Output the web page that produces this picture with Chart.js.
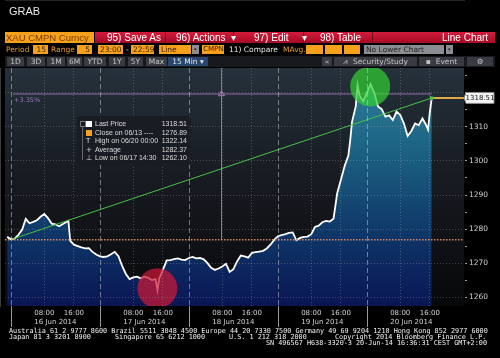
<!DOCTYPE html>
<html>
<head>
<meta charset="utf-8">
<script src="https://cdn.jsdelivr.net/npm/chart.js@4.4.1/dist/chart.umd.min.js"></script>
<style>
  body { margin: 0; background: #000; }
  #wrap { position: relative; width: 500px; height: 358px; overflow: hidden; background: #000; }
  #c { position: absolute; left: 0; top: 0; }
  .t { position: absolute; white-space: pre; line-height: 1; }
  .o { position: absolute; background: #f5a11c; color: #3a1e00; font: 7.5px "DejaVu Sans", sans-serif; line-height: 9px; height: 9px; padding: 0 2px; box-sizing: border-box; white-space: pre; overflow: hidden; }
  .l { position: absolute; color: #e89b2a; font: 7.5px "DejaVu Sans", sans-serif; line-height: 9px; white-space: pre; }
  .g { position: absolute; background: #8a8d92; color: #222; font: 7.5px "DejaVu Sans", sans-serif; line-height: 9px; height: 9px; padding: 0 2px; box-sizing: border-box; white-space: pre; }
  .b { position: absolute; top: 57px; height: 9px; background: #383c42; color: #c4c4c4; font: 7.5px "DejaVu Sans", sans-serif; line-height: 9px; text-align: center; white-space: pre; }
  .rb { position: absolute; top: 32px; color: #fff; font: 10px "Liberation Sans", Arial, sans-serif; line-height: 11px; white-space: pre; }
  .dv { position: absolute; top: 32px; width: 1px; height: 11px; background: #7a0a1e; }
  .ft { position: absolute; color: #f2f2f2; font: 6.8px "DejaVu Sans Mono", monospace; line-height: 7px; white-space: pre; }
  #leg { position: absolute; left: 77px; top: 116px; width: 114px; height: 49px; background: rgba(24,28,34,0.9); border-radius: 2px; }
  .lr { position: absolute; left: 18px; width: 92px; color: #dcdcdc; font: 7px "Liberation Sans", Arial, sans-serif; line-height: 8px; white-space: pre; }
  .lv { position: absolute; right: 0; top: 0; }
  .ic { position: absolute; }
</style>
</head>
<body>
<div id="wrap">
  <canvas id="c" width="500" height="358"></canvas>

  <div class="t" style="left:9px;top:5px;font:11px 'Liberation Sans',Arial,sans-serif;color:#e6e6e6;">GRAB</div>

  <div class="t" style="left:5px;top:32px;width:88px;height:11px;background:#f5a11c;color:#7a3c00;font:9.5px 'Liberation Sans',Arial,sans-serif;line-height:11px;padding-left:1px;">XAU CMPN Curncy</div>
  <div class="t" style="left:95px;top:32px;width:400px;height:11px;background:linear-gradient(#d41c3c,#a50a25);"></div>
  <div class="dv" style="left:165px"></div>
  <div class="dv" style="left:233px"></div>
  <div class="dv" style="left:303px"></div>
  <div class="dv" style="left:372px"></div>
  <div class="rb" style="left:107px">95) Save As</div>
  <div class="rb" style="left:176px">96) Actions  ▾</div>
  <div class="rb" style="left:254px">97) Edit     ▾</div>
  <div class="rb" style="left:320px">98) Table</div>
  <div class="rb" style="left:442px">Line Chart</div>

  <div class="l" style="left:6px;top:45px">Period</div>
  <div class="o" style="left:33px;top:45px;width:15px;text-align:right">15</div>
  <div class="l" style="left:51px;top:45px">Range</div>
  <div class="o" style="left:77px;top:45px;width:15px;text-align:right">5</div>
  <div class="o" style="left:98px;top:45px;width:25px">23:00</div>
  <div class="l" style="left:126px;top:45px;color:#ddd">-</div>
  <div class="o" style="left:131px;top:45px;width:23px">22:59</div>
  <div class="o" style="left:159px;top:45px;width:32px">Line</div>
  <div class="g" style="left:192px;top:45px;width:7px;font-size:5px">▾</div>
  <div class="o" style="left:202px;top:45px;width:22px;font-size:7px;padding:0 1px">CMPN</div>
  <div class="l" style="left:229px;top:45px;color:#e8e8e8">11) Compare</div>
  <div class="l" style="left:283px;top:45px">MAvg.</div>
  <div class="o" style="left:306px;top:45px;width:17px"></div>
  <div class="o" style="left:325px;top:45px;width:17px"></div>
  <div class="o" style="left:344px;top:45px;width:16px"></div>
  <div class="g" style="left:364px;top:45px;width:80px">No Lower Chart</div>
  <div class="g" style="left:446px;top:45px;width:7px;font-size:5px">▾</div>

  <div class="t" style="left:5px;top:56px;width:490px;height:11px;background:#17191c;"></div>
  <div class="b" style="left:7px;width:17px">1D</div>
  <div class="b" style="left:27px;width:18px">3D</div>
  <div class="b" style="left:47px;width:18px">1M</div>
  <div class="b" style="left:67px;width:15px">6M</div>
  <div class="b" style="left:84px;width:22px">YTD</div>
  <div class="b" style="left:109px;width:16px">1Y</div>
  <div class="b" style="left:128px;width:15px">5Y</div>
  <div class="b" style="left:146px;width:21px">Max</div>
  <div class="b" style="left:168px;width:40px;background:#27466f;color:#e6e6e6">15 Min ▾</div>
  <div class="b" style="left:322px;width:10px">«</div>
  <div class="b" style="left:334px;width:83px">⩘  Security/Study</div>
  <div class="b" style="left:419px;width:45px">▪  Event</div>
  <div class="b" style="left:467px;width:26px">⚙</div>

  <div class="t" style="left:14px;top:96px;color:#9a78b4;font:6.5px 'DejaVu Sans',sans-serif;">+3.35%</div>

  <div id="leg">
    <div class="ic" style="left:3px;top:5px;width:4px;height:4px;border:1px solid #777;"></div>
    <div class="ic" style="left:5px;top:11px;width:1px;height:33px;background:#666;"></div>
    <div class="ic" style="left:9px;top:5px;width:6px;height:6px;background:#fff;"></div>
    <div class="ic" style="left:9px;top:14px;width:6px;height:6px;background:#f5a11c;"></div>
    <div class="ic" style="left:9px;top:21px;color:#ddd;font:7px 'DejaVu Sans',sans-serif;">T</div>
    <div class="ic" style="left:9px;top:30px;color:#ddd;font:7px 'DejaVu Sans',sans-serif;">+</div>
    <div class="ic" style="left:9px;top:38px;color:#ddd;font:7px 'DejaVu Sans',sans-serif;">⊥</div>
    <div class="lr" style="top:4px">Last Price<span class="lv">1318.51</span></div>
    <div class="lr" style="top:13px">Close on 06/13 ----<span class="lv">1276.89</span></div>
    <div class="lr" style="top:21px">High on 06/20 00:00<span class="lv">1322.14</span></div>
    <div class="lr" style="top:30px">Average<span class="lv">1282.37</span></div>
    <div class="lr" style="top:38px">Low on 06/17 14:30<span class="lv">1262.10</span></div>
  </div>

  <div class="ft" style="left:9px;top:328px">Australia 61 2 9777 8600 Brazil 5511 3048 4500 Europe 44 20 7330 7500 Germany 49 69 9204 1210 Hong Kong 852 2977 6000</div>
  <div class="ft" style="left:9px;top:334px">Japan 81 3 3201 8900</div>
  <div class="ft" style="left:115px;top:334px">Singapore 65 6212 1000</div>
  <div class="ft" style="left:229px;top:334px">U.S. 1 212 318 2000</div>
  <div class="ft" style="left:335px;top:334px">Copyright 2014 Bloomberg Finance L.P.</div>
  <div class="ft" style="left:266px;top:340px">SN 496567 H638-3320-3 20-Jun-14 16:36:31 CEST GMT+2:00</div>
</div>

<script>
// hours counted from 16 Jun 2014 00:00, 15 min bars read at ~1h steps
const days = ['16 Jun 2014', '17 Jun 2014', '18 Jun 2014', '19 Jun 2014', '20 Jun 2014'];
const hourLabels = ['08:00', '16:00'];
const hourOffsets = [8, 16];

const times = [
  -2, -1, 0, 1, 2, 3, 4, 5, 6, 7, 8, 9, 10, 11, 12, 13, 14, 14.5, 15, 16, 17, 18, 19, 20, 21, 22,
  23, 24, 25, 26, 27, 28, 29, 30, 31, 32, 33, 34, 35, 36, 37, 38, 38.5, 39, 40, 41, 42, 43, 44, 45, 46,
  47, 48, 49, 50, 51, 52, 53, 54, 55, 56, 57, 58, 59, 60, 61, 62, 63, 64, 65, 66, 67, 68, 69, 70,
  71, 72, 73, 74, 75, 76, 77, 78, 79, 80, 81, 82, 83, 84, 85, 86, 87, 88, 89, 90, 90.5, 91, 92, 92.5,
  93, 94, 95, 96, 97, 98, 99, 100, 101, 102, 103, 104, 105, 106, 107, 108, 109, 110, 111, 111.5, 112, 112.5
];
const prices = [
  1277.7, 1277.0, 1277.2, 1278.3, 1279.8, 1283.0, 1281.7, 1282.1, 1282.6, 1283.6, 1284.4, 1283.2, 1281.6, 1281.4, 1280.8, 1281.5, 1282.1, 1282.4, 1276.5, 1275.4, 1275.0, 1274.6, 1274.3, 1274.4, 1273.3, 1272.5,
  1272.0, 1271.8, 1272.0, 1272.6, 1273.3, 1272.0, 1269.2, 1266.8, 1265.3, 1265.8, 1266.0, 1265.5, 1266.0, 1265.7, 1265.0, 1265.3, 1262.1, 1265.5, 1268.0, 1270.8, 1270.9, 1271.2, 1271.4, 1271.0, 1270.9,
  1271.5, 1271.8, 1271.4, 1271.5, 1271.1, 1270.0, 1268.6, 1268.0, 1268.4, 1269.0, 1269.8, 1267.4, 1268.2, 1270.5, 1272.2, 1272.0, 1271.6, 1273.0, 1273.2, 1273.4, 1273.6, 1274.3, 1275.4, 1276.8,
  1277.9, 1278.2, 1278.5, 1278.9, 1279.0, 1276.7, 1277.4, 1277.7, 1277.8, 1278.5, 1280.6, 1281.0, 1282.0, 1282.4, 1282.2, 1283.0, 1290.5, 1294.5, 1298.5, 1301.5, 1306.0, 1311.5, 1316.0, 1322.2,
  1319.3, 1317.5, 1320.0, 1322.5, 1320.0, 1316.0, 1315.2, 1313.0, 1313.4, 1312.0, 1314.5, 1313.5, 1311.0, 1307.3, 1308.8, 1311.0, 1310.5, 1312.5, 1310.5, 1309.2, 1314.5, 1318.51
];

const closePrice = 1276.89;
const lastPrice = 1318.51;
const measurePct = 3.35;
const measureTime = 55.8;
const trendTimes = [-1, 112.5];
const trendValues = [1276.9, 1318.5];
const markTimes = [38.5, 95.9];
const markValues = [1262.6, 1321.9];

const xMin = -2.6, xMax = 121.2;
const yMin = 1257.4, yMax = 1327.3;

const lastTime = times[times.length - 1];
const measureLevel = closePrice * (1 + measurePct / 100);

const hourTicks = [];
days.forEach((d, i) => hourOffsets.forEach(h => hourTicks.push(24 * i + h)));
const dayCenters = days.map((d, i) => 24 * i + 11);
const dayStarts = days.map((d, i) => 24 * i - 1);

function fillGradient(context) {
  const area = context.chart.chartArea;
  if (!area) return 'rgb(20,70,110)';
  const g = context.chart.ctx.createLinearGradient(0, area.top, 0, area.bottom);
  g.addColorStop(0, 'rgb(48,130,155)');
  g.addColorStop(0.35, 'rgb(28,98,130)');
  g.addColorStop(0.7, 'rgb(14,54,104)');
  g.addColorStop(1, 'rgb(10,22,84)');
  return g;
}

const decor = {
  id: 'decor',
  beforeDraw(chart) {
    const { ctx, chartArea: a } = chart;
    const g = ctx.createLinearGradient(0, a.top, 0, a.bottom);
    g.addColorStop(0, '#25313b');
    g.addColorStop(0.45, '#181b22');
    g.addColorStop(1, '#070809');
    ctx.save();
    ctx.fillStyle = g;
    ctx.fillRect(a.left, a.top, a.right - a.left, a.bottom - a.top);
    ctx.restore();
  },
  afterDatasetsDraw(chart) {
    const { ctx, chartArea: a, scales } = chart;
    ctx.save();
    dayStarts.forEach(t => {
      const x = Math.round(scales.x.getPixelForValue(t)) + 0.5;
      ctx.strokeStyle = 'rgba(210,210,210,0.5)';
      ctx.lineWidth = 1;
      ctx.setLineDash([5, 3]);
      ctx.beginPath();
      ctx.moveTo(x, a.top);
      ctx.lineTo(x, a.bottom);
      ctx.stroke();
      ctx.setLineDash([]);
      ctx.strokeStyle = '#9a9a9a';
      ctx.beginPath();
      ctx.moveTo(x, a.bottom);
      ctx.lineTo(x, scales.x2.bottom);
      ctx.stroke();
    });
    ctx.restore();
  },
  afterDraw(chart) {
    const { ctx, chartArea: a, scales } = chart;
    const y = scales.y.getPixelForValue(lastPrice);
    const x = a.right + 2;
    ctx.save();
    ctx.fillStyle = '#f4f4f4';
    ctx.strokeStyle = '#888';
    ctx.lineWidth = 1;
    ctx.beginPath();
    ctx.moveTo(x - 2, y);
    ctx.lineTo(x, y - 5.5);
    ctx.lineTo(x + 28, y - 5.5);
    ctx.lineTo(x + 28, y + 5.5);
    ctx.lineTo(x, y + 5.5);
    ctx.closePath();
    ctx.fill();
    ctx.stroke();
    ctx.fillStyle = '#111';
    ctx.font = '7px "DejaVu Sans", sans-serif';
    ctx.textAlign = 'center';
    ctx.textBaseline = 'middle';
    ctx.fillText(lastPrice.toFixed(2), x + 14, y + 0.5);
    ctx.restore();
  }
};

const axisFont = { family: '"DejaVu Sans", sans-serif', size: 7 };

new Chart(document.getElementById('c'), {
  type: 'line',
  data: {
    datasets: [
      {
        type: 'bubble',
        data: markTimes.map((t, i) => ({ x: t, y: markValues[i] })),
        radius: 20,
        hoverRadius: 0,
        borderWidth: 0,
        backgroundColor: ['rgba(205,25,55,0.72)', 'rgba(50,205,50,0.72)'],
        order: 0
      },
      {
        data: trendTimes.map((t, i) => ({ x: t, y: trendValues[i] })),
        borderColor: 'rgb(70,195,70)',
        borderWidth: 1,
        pointRadius: [0, 3],
        pointStyle: 'triangle',
        pointRotation: 71,
        pointBackgroundColor: 'rgb(70,195,70)',
        pointBorderWidth: 0,
        order: 1
      },
      {
        data: [{ x: lastTime, y: lastPrice }, { x: xMax, y: lastPrice }],
        borderColor: 'rgb(226,168,72)',
        borderWidth: 2,
        pointRadius: 0,
        order: 2
      },
      {
        data: [{ x: xMin, y: closePrice }, { x: xMax, y: closePrice }],
        borderColor: 'rgb(214,138,100)',
        borderWidth: 1.5,
        borderDash: [1.5, 1.5],
        pointRadius: 0,
        order: 2
      },
      {
        data: times.map((t, i) => ({ x: t, y: prices[i] })),
        borderColor: '#ffffff',
        borderWidth: 1.8,
        pointRadius: 0,
        fill: 'start',
        backgroundColor: fillGradient,
        tension: 0,
        order: 3
      },
      {
        data: [{ x: -0.5, y: measureLevel }, { x: lastTime, y: measureLevel }],
        borderColor: 'rgb(150,110,172)',
        borderWidth: 1,
        pointRadius: 0,
        order: 4
      },
      {
        data: [{ x: measureTime, y: closePrice }, { x: measureTime, y: yMax }],
        borderColor: 'rgb(150,110,172)',
        borderWidth: 1,
        pointRadius: 0,
        order: 4
      },
      {
        data: [{ x: measureTime, y: measureLevel }],
        showLine: false,
        pointStyle: 'triangle',
        pointRadius: 3.5,
        pointBackgroundColor: 'rgba(0,0,0,0)',
        pointBorderColor: 'rgb(165,125,185)',
        pointBorderWidth: 1,
        order: 4
      }
    ]
  },
  options: {
    responsive: false,
    animation: false,
    events: [],
    layout: { autoPadding: false, padding: { top: 68, left: 5, right: 0, bottom: 31 } },
    plugins: { legend: { display: false }, tooltip: { enabled: false } },
    scales: {
      x: {
        type: 'linear',
        min: xMin,
        max: xMax,
        position: 'bottom',
        afterBuildTicks: s => { s.ticks = hourTicks.map(v => ({ value: v })); },
        afterFit: s => { s.height = 12; },
        ticks: {
          callback: v => hourLabels[hourOffsets.indexOf(((v % 24) + 24) % 24)],
          color: '#d0d0d0',
          font: axisFont,
          padding: 3,
          maxRotation: 0,
          autoSkip: false
        },
        grid: { color: 'rgba(190,190,190,0.3)', drawTicks: false, z: 1 },
        border: { display: true, color: '#4a4a4a', dash: [1, 2] }
      },
      x2: {
        type: 'linear',
        min: xMin,
        max: xMax,
        position: 'bottom',
        afterBuildTicks: s => { s.ticks = dayCenters.map(v => ({ value: v })); },
        afterFit: s => { s.height = 9; },
        ticks: {
          callback: (v, i) => days[i],
          color: '#d0d0d0',
          font: axisFont,
          padding: 0,
          maxRotation: 0,
          autoSkip: false
        },
        grid: { display: false, drawTicks: false },
        border: { display: false }
      },
      y: {
        position: 'right',
        min: yMin,
        max: yMax,
        afterFit: s => { s.width = 36; },
        ticks: {
          stepSize: 5,
          includeBounds: false,
          // the last-price tag covers the label next to it
          callback: v => (v % 10 === 0 && Math.abs(v - lastPrice) > 4 ? String(v) : ''),
          color: '#d0d0d0',
          font: { family: '"DejaVu Sans", sans-serif', size: 7.5 },
          padding: 2
        },
        grid: {
          color: c => (c.tick && c.tick.value % 10 === 0 ? 'rgba(190,190,190,0.3)' : 'rgba(0,0,0,0)'),
          tickColor: '#a0a0a0',
          tickLength: 3,
          z: 1
        },
        border: { color: '#777', dash: [1, 2] }
      }
    }
  },
  plugins: [decor]
});
</script>
</body>
</html>
